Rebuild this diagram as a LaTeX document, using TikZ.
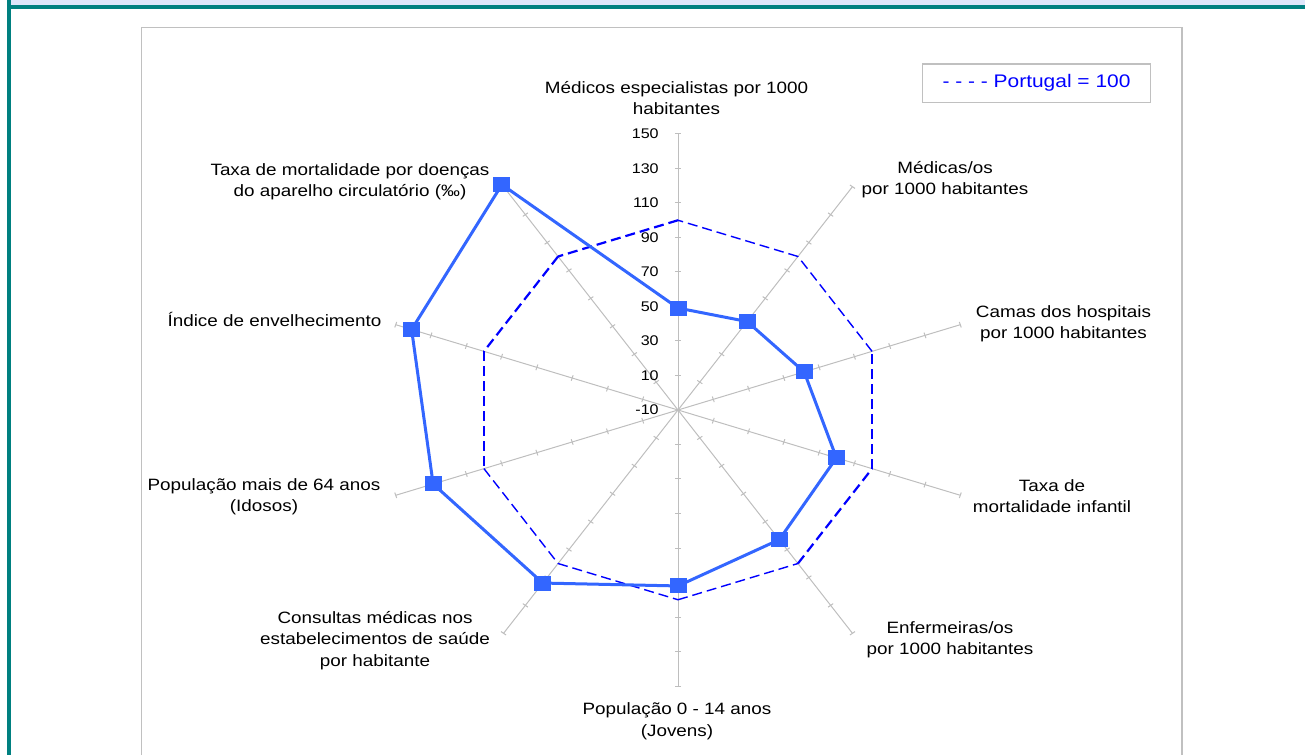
\documentclass[tikz,border=0pt]{standalone}
\usepackage{fontspec}
\setmainfont{Liberation Sans}[FakeStretch=1.15]
\definecolor{tealband}{RGB}{0,128,128}
\definecolor{lightband}{RGB}{221,230,250}
\definecolor{chartgray}{RGB}{192,192,192}
\definecolor{axisgray}{RGB}{190,190,190}
\definecolor{seriesblue}{RGB}{51,102,255}
\definecolor{refblue}{RGB}{0,0,255}
\begin{document}
\begin{tikzpicture}[x=0.5pt,y=0.5pt,
  lbl/.style={font=\fontsize{8.2}{10.6}\selectfont, align=center, anchor=base, inner sep=0pt},
  ticklbl/.style={font=\fontsize{7}{8}\selectfont, anchor=east, inner sep=0pt},
  spoke/.style={draw=axisgray, line width=0.5pt},
  refthin/.style={draw=refblue, line width=0.7pt, dash pattern=on 5pt off 2.5pt},
  refthick/.style={draw=refblue, line width=1.1pt, dash pattern=on 5pt off 2.5pt},
  series/.style={draw=seriesblue, line width=1.5pt, line join=round},
  sq/.style={fill=seriesblue, minimum width=8.5pt, minimum height=7.5pt, inner sep=0pt, draw=none}]
\useasboundingbox (0,0) rectangle (1305,755);
% frame bands
\fill[lightband] (11,750) rectangle (1305,755);
\fill[tealband] (7,746) rectangle (1305,750);
\fill[tealband] (7,0) rectangle (11,755);
% chart area
\draw[chartgray, line width=0.7pt] (141.5,0) -- (141.5,727.5) -- (1182,727.5) -- (1182,0);
% legend
\node[draw=chartgray, line width=0.7pt, minimum width=114.2pt, minimum height=19.15pt, inner sep=0pt,
      text=refblue, font=\fontsize{9.1}{11}\selectfont] (legend) at (1036.5,671.85) {- - - - Portugal = 100};
% radar
\begin{scope}[shift={(678,345)}, x=0.9275pt, y=0.8625pt]
  \foreach \a in {90,54,18,-18,-54,-90,-126,-162,162,126}{
    \draw[spoke] (0,0) -- ({\a}:160);
    \foreach \k in {1,...,8}{
      \draw[spoke] ({\a}:{20*\k}) ++({\a+90}:1.7) -- ++({\a-90}:3.4);
    }
  }
  \foreach \k/\v in {0/-10,1/10,2/30,3/50,4/70,5/90,6/110,7/130,8/150}{
    \node[ticklbl] (tick\k) at (-10.2,{20*\k}) {\v};
  }
  % Portugal = 100
  \foreach \i/\a in {0/90,1/54,2/18,3/-18,4/-54,5/-90,6/-126,7/-162,8/162,9/126}{
    \coordinate (q\i) at ({\a}:110);
  }
  \draw[refthick] (q0) -- (q9);
  \draw[refthick] (q9) -- (q8);
  \draw[refthick] (q8) -- (q7);
  \draw[refthin] (q7) -- (q6);
  \draw[refthin] (q6) -- (q5);
  \draw[refthin] (q5) -- (q4);
  \draw[refthick] (q4) -- (q3);
  \draw[refthick] (q3) -- (q2);
  \draw[refthin] (q2) -- (q1);
  \draw[refthin] (q1) -- (q0);
  % series
  \coordinate (p0) at (90:59.1);
  \coordinate (p1) at (54:63.4);
  \coordinate (p2) at (18:71.5);
  \coordinate (p3) at (-18:89.8);
  \coordinate (p4) at (-54:92.9);
  \coordinate (p5) at (-90:102);
  \coordinate (p6) at (-126:124);
  \coordinate (p7) at (-162:138.8);
  \coordinate (p8) at (162:151);
  \coordinate (p9) at (126:161.5);
  \draw[series] (p0) -- (p1) -- (p2) -- (p3) -- (p4) -- (p5) -- (p6) -- (p7) -- (p8) -- (p9) -- cycle;
  \foreach \i in {0,...,9}{ \node[sq] (s\i) at (p\i) {}; }
\end{scope}
% axis labels
\node[lbl] (l0) at (676.5,640.7) {Médicos especialistas por 1000\\habitantes};
\node[lbl] (l1) at (945,560) {Médicas/os\\por 1000 habitantes};
\node[lbl] (l2) at (1063.5,416.7) {Camas dos hospitais\\por 1000 habitantes};
\node[lbl] (l3) at (1052,242.3) {Taxa de\\mortalidade infantil};
\node[lbl] (l4) at (950,100) {Enfermeiras/os\\por 1000 habitantes};
\node[lbl] (l5) at (677,19) {População 0 - 14 anos\\(Jovens)};
\node[lbl] (l6) at (375,89) {Consultas médicas nos\\estabelecimentos de saúde\\por habitante};
\node[lbl] (l7) at (264,243.3) {População mais de 64 anos\\(Idosos)};
\node[lbl] (l8) at (274.5,428.3) {Índice de envelhecimento};
\node[lbl] (l9) at (350,558.3) {Taxa de mortalidade por doenças\\do aparelho circulatório (‰)};
\end{tikzpicture}
\end{document}
